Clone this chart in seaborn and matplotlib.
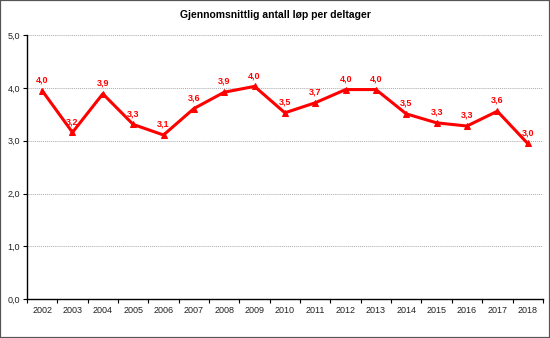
import matplotlib
matplotlib.use("Agg")
import matplotlib.pyplot as plt
import seaborn as sns
import pandas as pd
from matplotlib.patches import Rectangle
from matplotlib.ticker import FixedLocator, NullFormatter

years = [str(y) for y in range(2002, 2019)]
values = [3.95, 3.16, 3.89, 3.31, 3.11, 3.61, 3.92, 4.03, 3.53, 3.72, 3.97, 3.97, 3.51, 3.34, 3.28, 3.56, 2.95]
labels = ["4,0", "3,2", "3,9", "3,3", "3,1", "3,6", "3,9", "4,0", "3,5", "3,7", "4,0", "4,0", "3,5", "3,3", "3,3", "3,6", "3,0"]
title = "Gjennomsnittlig antall løp per deltager"
yticks = [0.0, 1.0, 2.0, 3.0, 4.0, 5.0]

sns.set_style("white")
plt.rcParams['font.family'] = ['Liberation Sans', 'DejaVu Sans']

df = pd.DataFrame({"year": years, "value": values})

fig = plt.figure(figsize=(5.5, 3.38), dpi=100)
ax = fig.add_axes([0.049, 0.1145, 0.938, 0.7815])

sns.lineplot(data=df, x="year", y="value", ax=ax, color="#FF0000", linewidth=2.2,
             marker="^", markersize=5, markeredgecolor="#FF0000", sort=False)

for i, (v, lab) in enumerate(zip(values, labels)):
    ax.annotate(lab, (i, v), xytext=(0, 4.5),
                textcoords="offset points", ha="center", va="bottom",
                fontsize=6.5, color="#FF0000", fontweight="bold")

ax.set_xlim(-0.5, len(years) - 0.5)
ax.set_ylim(0, 5)
ax.set_yticks(yticks)
ax.set_yticklabels([f"{t:.1f}".replace(".", ",") for t in yticks], fontsize=6.5, color="#222222")
ax.tick_params(axis="y", length=3, width=0.8, color="black", pad=2, direction="out", left=True)
ax.set_xticks(range(len(years)))
ax.set_xticklabels(years, fontsize=6.5, color="#222222")
ax.tick_params(axis="x", which="major", length=0, pad=5)
ax.xaxis.set_minor_locator(FixedLocator([i + 0.5 for i in range(-1, len(years))]))
ax.xaxis.set_minor_formatter(NullFormatter())
ax.tick_params(axis="x", which="minor", length=3, width=0.8, color="black", direction="out", bottom=True)

ax.set_xlabel("")
ax.set_ylabel("")
ax.yaxis.grid(True, color="#aaaaaa", linestyle=(0, (1, 1)), linewidth=0.7)
ax.set_axisbelow(True)
for s in ["top", "right"]:
    ax.spines[s].set_visible(False)
for s in ["left", "bottom"]:
    ax.spines[s].set_color("black")
    ax.spines[s].set_linewidth(1.0)

fig.text(0.5, 0.955, title, ha="center", va="center", fontsize=7.5, fontweight="bold", color="black")
fig.patches.append(Rectangle((0, 0), 1, 1, transform=fig.transFigure, fill=False,
                             edgecolor="#555555", linewidth=1.6, zorder=10))

fig.savefig("out.png", dpi=100)
